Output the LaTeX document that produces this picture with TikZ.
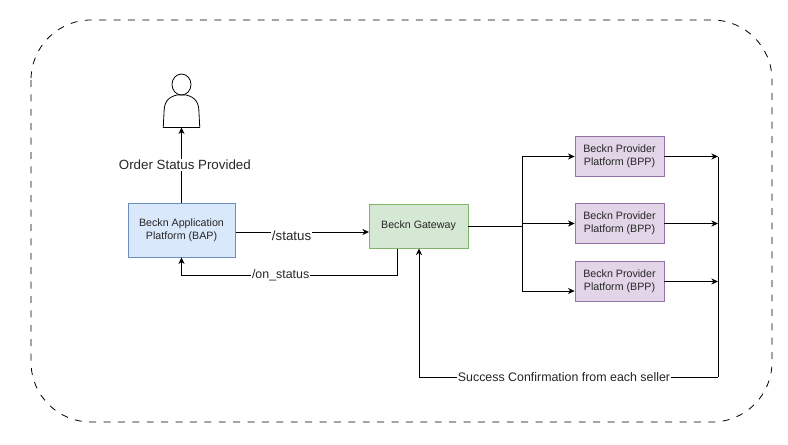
\documentclass[tikz,border=0pt]{standalone}
\usepackage{fontspec}
\setmainfont{Liberation Sans}
\usetikzlibrary{positioning,arrows.meta}
\definecolor{bapfill}{HTML}{DAE8FC}
\definecolor{bapline}{HTML}{6C8EBF}
\definecolor{gwfill}{HTML}{D5E8D4}
\definecolor{gwline}{HTML}{82B366}
\definecolor{bppfill}{HTML}{E1D5E7}
\definecolor{bppline}{HTML}{9673A6}

\begin{document}
\begin{tikzpicture}[x=.75pt,y=-.75pt]
  % Settings
  \tikzset{
    box/.style={draw, shape=rectangle, align=center, font=\fontsize{8}{10}\selectfont, text=black!85, inner sep=0pt, line width=.6pt},
    bap/.style={box, fill=bapfill, draw=bapline, minimum width=80.25pt, minimum height=40.5pt},
    gw/.style={box, fill=gwfill, draw=gwline, minimum width=74.25pt, minimum height=33pt},
    bpp/.style={box, fill=bppfill, draw=bppline, minimum width=66.75pt, minimum height=30pt},
    lbl/.style={fill=white, font=\fontsize{9.3}{11}\selectfont, text=black!85, inner sep=.6pt},
    biglbl/.style={lbl, font=\fontsize{10}{12}\selectfont},
    flow/.style={draw, line width=.6pt, -{Stealth[length=5pt,width=4.6pt]}},
    plain/.style={draw, line width=.6pt},
  }
  \useasboundingbox (0,0) rectangle (788,444);
  % Dashed border
  \draw[line width=.6pt, dash pattern=on 5.2pt off 5.6pt, rounded corners=45pt] (31,20) rectangle (772,422);
  % Nodes
  \node[bap] (bap) at (181.5,230) {Beckn Application\\Platform (BAP)};
  \node[gw] (gw) at (418.5,226) {Beckn Gateway};
  \node[bpp] (bpp1) at (619.5,156.5) {Beckn Provider\\Platform (BPP)};
  \node[bpp] (bpp2) at (619.5,223.5) {Beckn Provider\\Platform (BPP)};
  \node[bpp] (bpp3) at (619.5,281.5) {Beckn Provider\\Platform (BPP)};
  % Person
  \node[minimum width=27pt, minimum height=40pt, inner sep=0pt] (person) at (181.5,100.5) {};
  \draw[line width=.6pt] (181.5,84.5) ellipse (9.5 and 10.5);
  \draw[line width=.6pt, line join=round] (person.south west) -- (164,113)
    .. controls (164,102) and (168,97) .. (177,95) -- (186,95)
    .. controls (195,97) and (199,102) .. (199,113) -- (person.south east) -- cycle;
  % Junctions
  \coordinate (split) at (522,226);
  \coordinate (split1) at (522,156.5);
  \coordinate (split2) at (522,223.5);
  \coordinate (split3) at (522,291);
  \coordinate (bus1) at (718,156.5);
  \coordinate (bus2) at (718,223.5);
  \coordinate (bus3) at (718,281.5);
  \coordinate (buslow) at (718,377);
  \coordinate (retlow) at (419,377);
  \coordinate (retup) at (419,248.5);
  \coordinate (onright) at (397,248.5);
  \coordinate (onlow) at (397,275);
  \coordinate (onleft) at (181.5,275);
  \coordinate (stin) at (369,232);
  \coordinate (stout) at (235.5,232);
  % Arrows
  \draw[flow] (bap.north) -- node[biglbl, pos=.5, xshift=2.5pt] (ordertxt) {Order Status Provided} (person.south);
  \draw[flow] (stout) -- node[biglbl, pos=.42, yshift=-3pt] (statustxt) {/status} (stin);
  \draw[flow] (onright) -- (onlow) -- node[lbl, pos=.54] (ontxt) {/on\_status} (onleft) -- (bap.south);
  \draw[plain] (gw.east) -- (split);
  \draw[flow] (split1) -- (bpp1.west);
  \draw[flow] (split2) -- (bpp2.west);
  \draw[plain] (split1) -- (split3);
  \draw[flow] (split3) -- (split3 -| bpp1.west);
  \foreach \i in {1,2,3} {\draw[flow] (bpp\i.east) -- (bus\i);}
  \draw[plain] (bus1) -- (buslow);
  \draw[flow] (buslow) -- node[lbl, pos=.515] (succtxt) {Success Confirmation from each seller} (retlow) -- (retup);
\end{tikzpicture}
\end{document}
